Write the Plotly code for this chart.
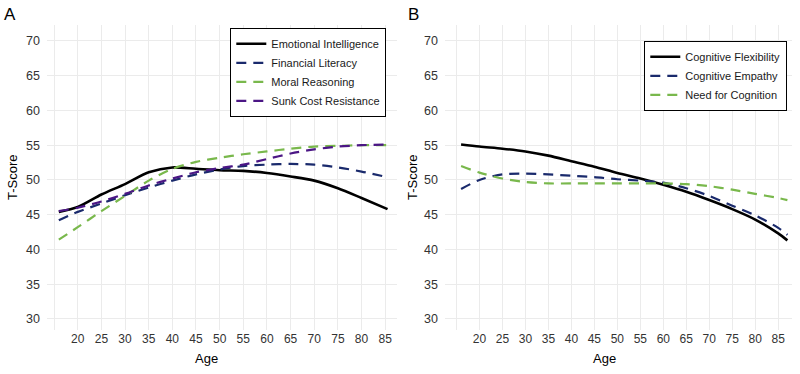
import plotly.graph_objects as go

# ---------------- Data ----------------
ages_a = [16, 20, 25, 30, 35, 40, 45, 50, 55, 60, 65, 70, 75, 80, 85.5]
emotional_intelligence = [45.4, 46.1, 47.9, 49.4, 51.1, 51.8, 51.6, 51.4, 51.3, 51.0, 50.5, 49.9, 48.8, 47.4, 45.8]
financial_literacy = [44.2, 45.4, 46.6, 47.8, 48.9, 49.9, 50.8, 51.5, 52.0, 52.2, 52.3, 52.2, 51.8, 51.2, 50.4]
moral_reasoning = [41.4, 43.2, 45.5, 47.7, 49.9, 51.6, 52.6, 53.2, 53.7, 54.1, 54.5, 54.8, 54.9, 55.0, 55.0]
sunk_cost_resistance = [45.5, 46.0, 46.9, 48.0, 49.2, 50.2, 51.1, 51.7, 52.2, 53.0, 53.8, 54.4, 54.8, 55.0, 55.1]

ages_b = [16, 20, 25, 30, 35, 40, 45, 50, 55, 60, 65, 70, 75, 80, 85, 87]
cognitive_flexibility = [55.1, 54.8, 54.5, 54.1, 53.5, 52.7, 51.9, 51.0, 50.2, 49.3, 48.3, 47.1, 45.8, 44.3, 42.3, 41.3]
cognitive_empathy = [48.7, 50.0, 50.8, 50.9, 50.8, 50.6, 50.4, 50.1, 49.9, 49.6, 48.8, 47.7, 46.3, 44.9, 43.1, 42.1]
need_for_cognition = [52.0, 51.05, 50.2, 49.7, 49.5, 49.5, 49.5, 49.5, 49.5, 49.5, 49.4, 49.1, 48.6, 48.0, 47.4, 47.1]

x_tickvals = [15, 20, 25, 30, 35, 40, 45, 50, 55, 60, 65, 70, 75, 80, 85]
x_ticktext = [""] + [str(v) for v in x_tickvals[1:]]
y_tickvals = [30, 35, 40, 45, 50, 55, 60, 65, 70]

# ---------------- Styles ----------------
BLACK = "#000000"
NAVY = "#1a2a6c"
GREEN = "#79b84c"
PURPLE = "#4b1685"
FONT = "Liberation Sans, Arial, sans-serif"
DASH = "10px,7px"

fig = go.Figure()

series_a = [
    ("Emotional Intelligence", emotional_intelligence, BLACK, "solid", 2.6),
    ("Financial Literacy", financial_literacy, NAVY, DASH, 2.2),
    ("Moral Reasoning", moral_reasoning, GREEN, DASH, 2.2),
    ("Sunk Cost Resistance", sunk_cost_resistance, PURPLE, DASH, 2.2),
]
for name, vals, col, dash, w in series_a:
    fig.add_trace(go.Scatter(x=ages_a, y=vals, mode="lines", name=name,
                             line=dict(color=col, width=w, dash=dash, shape="spline", smoothing=0.8),
                             xaxis="x", yaxis="y", legend="legend"))

series_b = [
    ("Cognitive Flexibility", cognitive_flexibility, BLACK, "solid", 2.6),
    ("Cognitive Empathy", cognitive_empathy, NAVY, DASH, 2.2),
    ("Need for Cognition", need_for_cognition, GREEN, DASH, 2.2),
]
for name, vals, col, dash, w in series_b:
    fig.add_trace(go.Scatter(x=ages_b, y=vals, mode="lines", name=name,
                             line=dict(color=col, width=w, dash=dash, shape="spline", smoothing=0.8),
                             xaxis="x2", yaxis="y2", legend="legend2"))

W, H = 800, 374
ydom = [1 - 330 / H, 1 - 25 / H]

common_x = dict(tickvals=x_tickvals, ticktext=x_ticktext, showgrid=True, gridcolor="#ebebeb",
                gridwidth=1, zeroline=False, showline=False, ticks="",
                tickfont=dict(family=FONT, size=12, color="#333333"))
common_y = dict(tickvals=y_tickvals, range=[28.4, 72.3], showgrid=True, gridcolor="#ebebeb",
                gridwidth=1, zeroline=False, showline=False, ticks="", ticklabelstandoff=6,
                tickfont=dict(family=FONT, size=12.5, color="#333333"))

legend_common = dict(bgcolor="white", bordercolor="black", borderwidth=1.3,
                     font=dict(family=FONT, size=11, color="#1a1a1a"),
                     xanchor="right", yanchor="top", xref="paper", yref="paper",
                     tracegroupgap=0)

fig.update_layout(
    width=W, height=H,
    margin=dict(l=0, r=0, t=0, b=0),
    paper_bgcolor="white", plot_bgcolor="white",
    showlegend=True,
    xaxis=dict(domain=[47 / W, 397 / W], range=[13.5, 87.5], anchor="y", **common_x),
    yaxis=dict(domain=ydom, anchor="x", **common_y),
    xaxis2=dict(domain=[445 / W, 792 / W], range=[12.5, 88.0], anchor="y2", **common_x),
    yaxis2=dict(domain=ydom, anchor="x2", **common_y),
    legend=dict(x=386 / W, y=1 - 28 / H, **legend_common),
    legend2=dict(x=787 / W, y=1 - 41 / H, **legend_common),
    annotations=[
        dict(text="A", x=10 / W, y=1 - 14 / H, xref="paper", yref="paper", showarrow=False,
             font=dict(family=FONT, size=17, color="black"), xanchor="center", yanchor="middle"),
        dict(text="B", x=414 / W, y=1 - 14 / H, xref="paper", yref="paper", showarrow=False,
             font=dict(family=FONT, size=17, color="black"), xanchor="center", yanchor="middle"),
        dict(text="Age", x=207 / W, y=1 - 358 / H, xref="paper", yref="paper", showarrow=False,
             font=dict(family=FONT, size=13, color="black"), xanchor="center", yanchor="middle"),
        dict(text="Age", x=604 / W, y=1 - 358 / H, xref="paper", yref="paper", showarrow=False,
             font=dict(family=FONT, size=13, color="black"), xanchor="center", yanchor="middle"),
        dict(text="T-Score", x=12 / W, y=1 - 177 / H, xref="paper", yref="paper", showarrow=False,
             textangle=-90, font=dict(family=FONT, size=13, color="black"),
             xanchor="center", yanchor="middle"),
        dict(text="T-Score", x=412 / W, y=1 - 177 / H, xref="paper", yref="paper", showarrow=False,
             textangle=-90, font=dict(family=FONT, size=13, color="black"),
             xanchor="center", yanchor="middle"),
    ],
)

fig.write_html("out.html")
